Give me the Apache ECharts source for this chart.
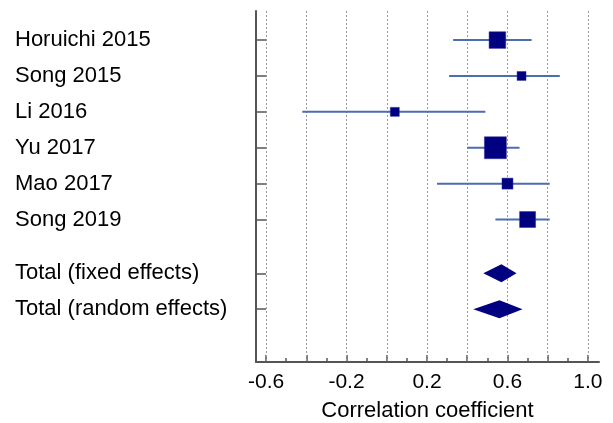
<!DOCTYPE html>
<html>
<head>
<meta charset="utf-8">
<script src="https://cdn.jsdelivr.net/npm/echarts@6/dist/echarts.min.js"></script>
<style>
html,body{margin:0;padding:0;background:#fff;}
#chart{width:613px;height:423px;}
</style>
</head>
<body>
<div id="chart"></div>
<script>
// ---- data ----
const studies = ['Horuichi 2015', 'Song 2015', 'Li 2016', 'Yu 2017', 'Mao 2017', 'Song 2019'];
const estimates = [0.55, 0.67, 0.04, 0.54, 0.60, 0.70];
const lowerCI = [0.33, 0.31, -0.42, 0.40, 0.25, 0.54];
const upperCI = [0.72, 0.86, 0.49, 0.66, 0.81, 0.81];
const weights = [21.4, 6.2, 6.2, 37.2, 9.3, 19.7];

const pooledNames = ['Total (fixed effects)', 'Total (random effects)'];
const pooledEst = [0.57, 0.56];
const pooledLower = [0.48, 0.43];
const pooledUpper = [0.645, 0.675];

const xTickLabels = [-0.6, -0.2, 0.2, 0.6, 1.0];
const xName = 'Correlation coefficient';

// ---- layout helpers ----
const studyRows = studies.map((_, i) => i + 1);
const pooledRows = pooledNames.map((_, j) => studies.length + 1.5 + j);
const rowLabel = {};
studies.forEach((n, i) => rowLabel[studyRows[i]] = n);
pooledNames.forEach((n, j) => rowLabel[pooledRows[j]] = n);
const allRows = studyRows.concat(pooledRows);

const majorTicks = [], minorTicks = [], gridVals = [];
for (let k = -6; k <= 10; k++) {
  const v = +(k / 10).toFixed(1);
  if (k % 2 === 0) { majorTicks.push(v); gridVals.push(v); } else { minorTicks.push(v); }
}

const studyData = studies.map((_, i) => [studyRows[i], lowerCI[i], estimates[i], upperCI[i], weights[i]]);
const pooledData = pooledNames.map((_, j) => [pooledRows[j], pooledLower[j], pooledEst[j], pooledUpper[j]]);

const FONT = 'Liberation Sans, Arial, sans-serif';
const AXIS_COLOR = '#555';
const gridRect = { left: 256, right: 14, top: 11, bottom: 61, containLabel: false, outerBoundsMode: 'none' };
const xMin = -0.65, xMax = 1.055, yMin = 0.19, yMax = 9.97;

const chart = echarts.init(document.getElementById('chart'), null, { renderer: 'canvas' });
chart.setOption({
  animation: false,
  backgroundColor: '#fff',
  grid: [Object.assign({}, gridRect), Object.assign({}, gridRect)],
  xAxis: [
    {
      gridIndex: 0, type: 'value', min: xMin, max: xMax, position: 'bottom',
      axisLine: { show: false },
      axisTick: { show: true, inside: true, length: 4, customValues: minorTicks, lineStyle: { color: AXIS_COLOR, width: 1.5 } },
      axisLabel: { show: false },
      splitLine: { show: false }
    },
    {
      gridIndex: 1, type: 'value', min: xMin, max: xMax, position: 'bottom',
      name: xName, nameLocation: 'middle', nameGap: 38,
      nameTextStyle: { fontFamily: FONT, fontSize: 22, color: '#000' },
      axisLine: { show: true, onZero: false, lineStyle: { color: AXIS_COLOR, width: 2 } },
      axisTick: { show: true, inside: true, length: 7, customValues: majorTicks, lineStyle: { color: AXIS_COLOR, width: 1.5 } },
      axisLabel: {
        show: true, customValues: xTickLabels, margin: 10,
        fontFamily: FONT, fontSize: 21, color: '#000',
        formatter: v => Number(v).toFixed(1)
      },
      splitLine: { show: false }
    }
  ],
  yAxis: [
    {
      gridIndex: 0, type: 'value', inverse: true, min: yMin, max: yMax, show: false
    },
    {
      gridIndex: 1, type: 'value', inverse: true, min: yMin, max: yMax,
      axisLine: { show: true, onZero: false, lineStyle: { color: AXIS_COLOR, width: 2 } },
      axisTick: { show: true, inside: true, length: 10, customValues: allRows, lineStyle: { color: AXIS_COLOR, width: 1.5 } },
      axisLabel: {
        show: true, customValues: allRows, align: 'left', margin: 241,
        fontFamily: FONT, fontSize: 22, color: '#000',
        formatter: v => rowLabel[v] || ''
      },
      splitLine: { show: false }
    }
  ],
  series: [
    {
      type: 'line', xAxisIndex: 1, yAxisIndex: 1, data: [], silent: true,
      markLine: {
        silent: true, symbol: ['none', 'none'], label: { show: false },
        lineStyle: { color: '#999', type: [2, 2], width: 1 },
        data: gridVals.map(v => ({ xAxis: v }))
      }
    },
    {
      type: 'custom', xAxisIndex: 1, yAxisIndex: 1, z: 5,
      encode: { x: [1, 2, 3], y: 0 },
      data: studyData,
      renderItem: function (params, api) {
        const y = api.value(0);
        const pLo = api.coord([api.value(1), y]);
        const pE = api.coord([api.value(2), y]);
        const pHi = api.coord([api.value(3), y]);
        const s = 3.6 * Math.sqrt(api.value(4));
        return {
          type: 'group',
          children: [
            { type: 'line', shape: { x1: pLo[0], y1: pLo[1], x2: pHi[0], y2: pHi[1] }, style: { stroke: '#4a6eae', lineWidth: 2 } },
            { type: 'rect', shape: { x: pE[0] - s / 2, y: pE[1] - s / 2, width: s, height: s }, style: { fill: '#000080', stroke: '#2a2a96', lineWidth: 0.5 } }
          ]
        };
      }
    },
    {
      type: 'custom', xAxisIndex: 1, yAxisIndex: 1, z: 5,
      encode: { x: [1, 2, 3], y: 0 },
      data: pooledData,
      renderItem: function (params, api) {
        const y = api.value(0);
        const pLo = api.coord([api.value(1), y]);
        const pE = api.coord([api.value(2), y]);
        const pHi = api.coord([api.value(3), y]);
        const h = 9;
        return {
          type: 'polygon',
          shape: { points: [[pLo[0], pLo[1]], [pE[0], pE[1] - h], [pHi[0], pHi[1]], [pE[0], pE[1] + h]] },
          style: { fill: '#000080' }
        };
      }
    }
  ]
});
</script>
</body>
</html>
